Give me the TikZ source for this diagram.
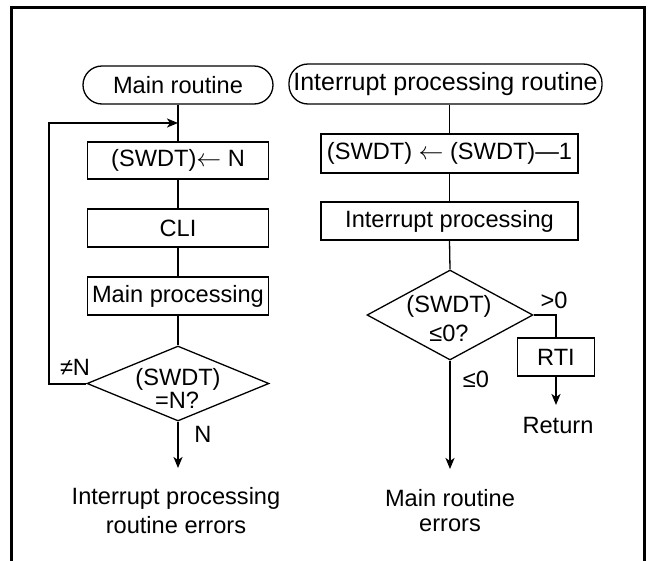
\documentclass[tikz,border=0pt]{standalone}
\usepackage{fontspec}
\setmainfont{Liberation Sans}
\usetikzlibrary{arrows.meta,shapes.geometric}
\tikzset{
  txt/.style={font=\fontsize{23.6pt}{28pt}\selectfont, inner sep=0pt},
  box/.style={draw, line width=1.3pt, rectangle, inner sep=0pt, font=\fontsize{23.6pt}{28pt}\selectfont},
  term/.style={box, rounded corners=19pt},
  dec/.style={draw, line width=1.3pt, diamond, inner sep=0pt},
  conn/.style={line width=1.3pt},
  arr/.style={line width=2pt, -{Stealth[length=11pt,width=9pt,inset=3pt]}},
  frame/.style={line width=3pt}
}
\begin{document}
\begin{tikzpicture}[x=1pt,y=-1pt]
\useasboundingbox (0,0) rectangle (648,560);
\draw[frame] (11,562) -- (11,7) -- (644,7) -- (644,562);

% left column
\node[term, minimum width=190pt, minimum height=38pt] (t1) at (178,85) {Main routine};
\node[box, minimum width=181pt, minimum height=37pt] (b1) at (178,160.5) {(SWDT)$\leftarrow$ N};
\node[box, minimum width=181pt, minimum height=38pt] (b2) at (178,228) {CLI};
\node[box, minimum width=181pt, minimum height=38pt] (b3) at (178,296) {Main processing};
\node[dec, minimum width=182pt, minimum height=75pt] (d1) at (178,383.5) {};
\node[txt] (d1a) at (178,379) {(SWDT)};
\node[txt] (d1b) at (177,400) {=N?};
\coordinate (fb) at (178,123);
\coordinate (lp) at (49,383.5);
\coordinate (e1) at (178,468);
\node[txt] (ne) at (75,367) {≠N};
\node[txt] (nl) at (203,434) {N};
\node[txt] (o1a) at (176,498) {Interrupt processing};
\node[txt] (o1b) at (176,525) {routine errors};

\draw[conn] (t1.south) -- (b1.north);
\draw[conn] (b1.south) -- (b2.north);
\draw[conn] (b2.south) -- (b3.north);
\draw[conn] (b3.south) -- (d1.north);
\draw[arr] (d1.west) -- (lp) |- (fb);
\draw[arr] (d1.south) -- (e1);

% right column
\node[term, minimum width=313pt, minimum height=40pt, font=\fontsize{25pt}{30pt}\selectfont] (t2) at (445.5,84) {Interrupt processing routine};
\node[box, minimum width=257pt, minimum height=39pt] (b4) at (449.5,153.5) {(SWDT) $\leftarrow$ (SWDT)—1};
\node[box, minimum width=257pt, minimum height=38pt] (b5) at (449.5,221) {Interrupt processing};
\node[dec, minimum width=166pt, minimum height=90pt] (d2) at (450,315) {};
\node[txt] (d2a) at (449,306) {(SWDT)};
\node[txt] (d2b) at (449,333) {≤0?};
\coordinate (rc) at (556,315);
\node[box, minimum width=77pt, minimum height=38pt] (rti) at (556,357) {RTI};
\coordinate (e2) at (556,405);
\coordinate (e3) at (450,469);
\node[txt] (ret) at (558,425) {Return};
\node[txt] (gt) at (554,300) {>0};
\node[txt] (le) at (476,379) {≤0};
\node[txt] (o2a) at (450,498) {Main routine};
\node[txt] (o2b) at (450,525) {errors};

\draw[conn] (t2.south -| b4.north) -- (b4.north);
\draw[conn] (b4.south) -- (b5.north);
\draw[conn] (b5.south) -- (d2.north);
\draw[conn] (d2.east) -- (rc) -- (rti.north);
\draw[arr] (rti.south) -- (e2);
\draw[arr] (d2.south) -- (e3);
\end{tikzpicture}
\end{document}
